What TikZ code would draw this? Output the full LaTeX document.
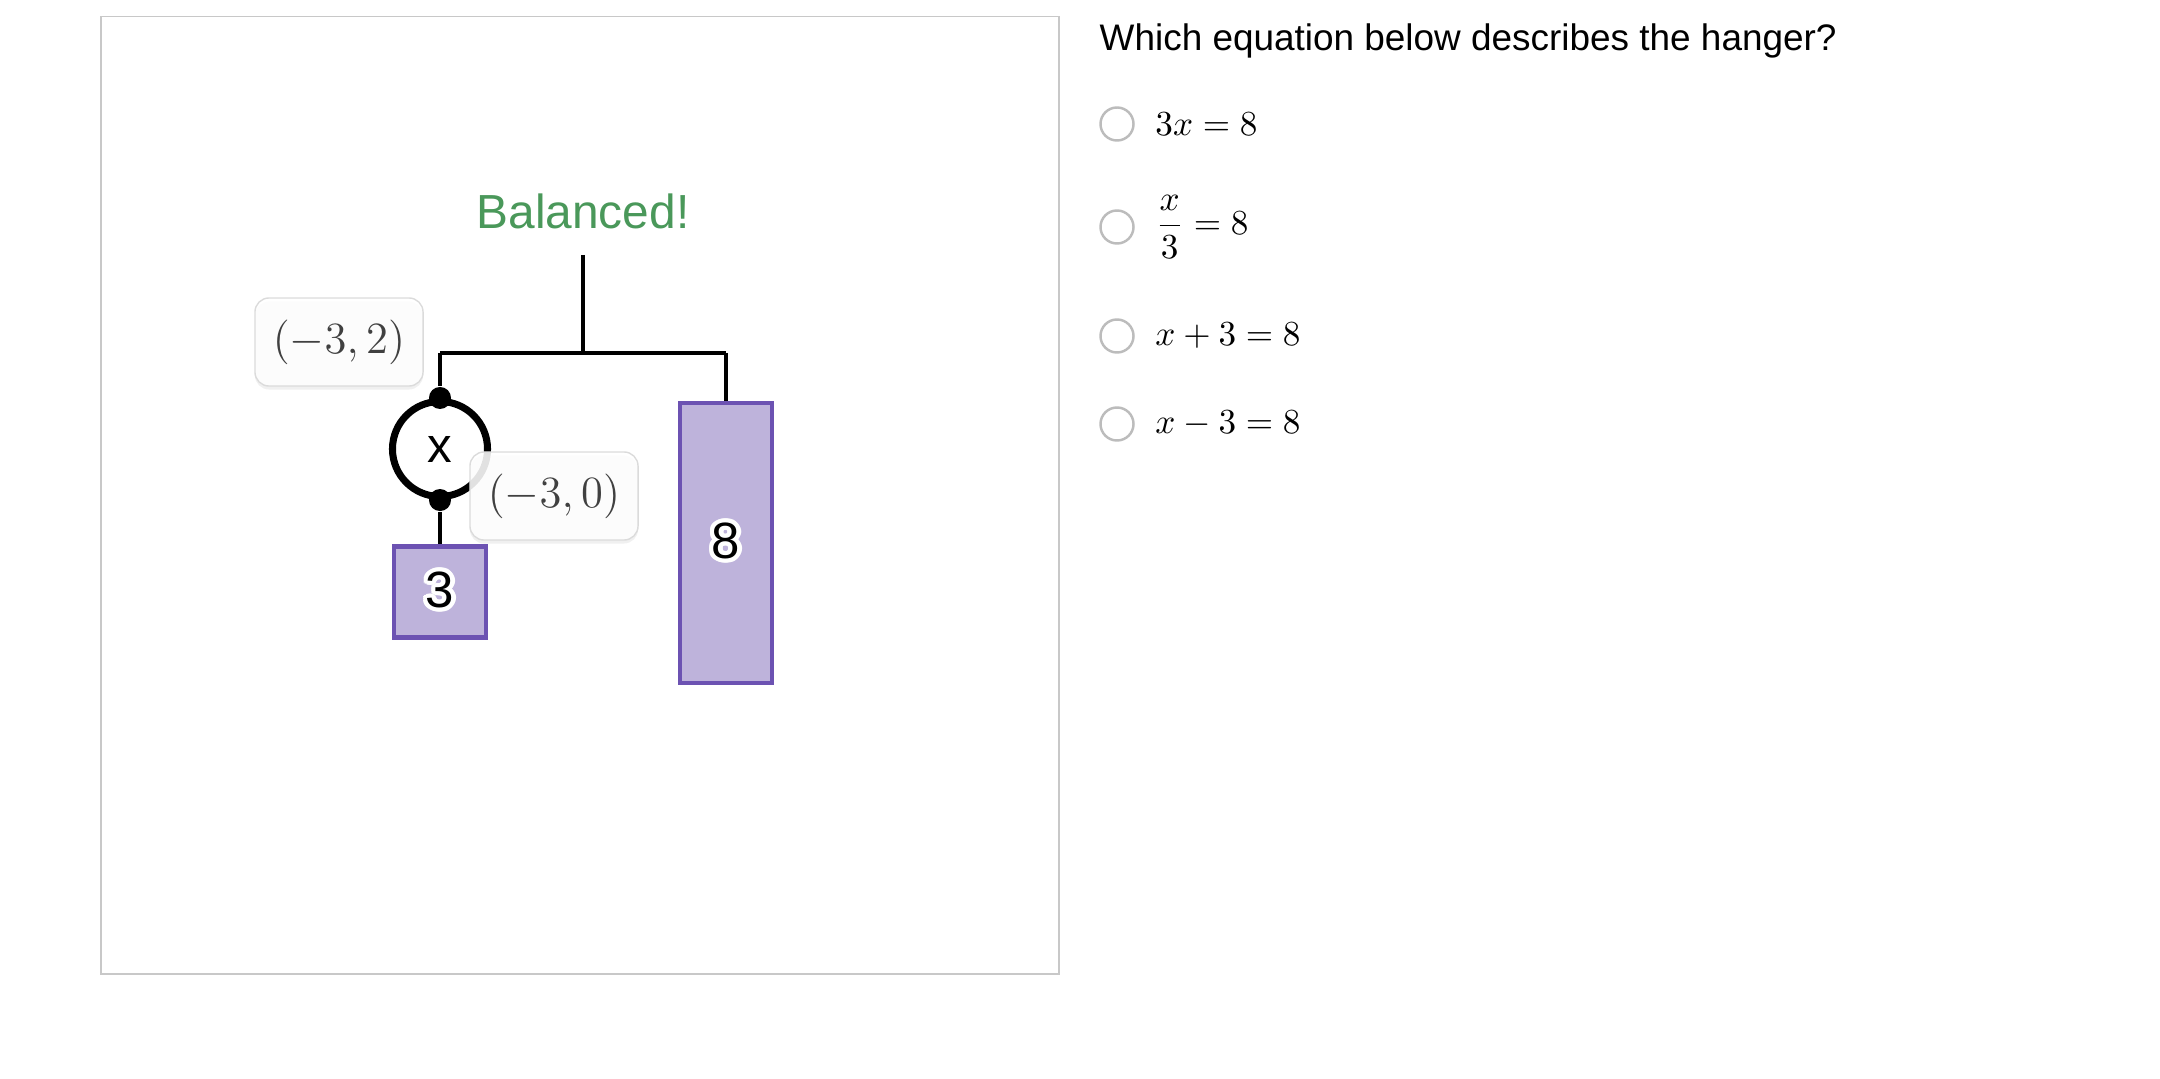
\RequirePackage{fix-cm}
\documentclass[tikz,border=0pt]{standalone}
\usepackage{amsmath}
\usepackage[no-math]{fontspec}
\setmainfont{Liberation Sans}
\usepackage[copies]{contour}
\usepackage{tikz}
\usetikzlibrary{positioning,shadows}
\definecolor{hgframe}{RGB}{200,200,200}
\definecolor{hggreen}{RGB}{74,152,90}
\definecolor{hgpurple}{RGB}{108,82,178}
\definecolor{hglilac}{RGB}{190,179,219}
\definecolor{hglabel}{RGB}{64,64,64}
\definecolor{hgradio}{RGB}{188,188,188}
\contourlength{1.2pt}
\tikzstyle{rope} = [line width=1.3pt, black]
\tikzstyle{weight} = [rectangle, draw=hgpurple, fill=hglilac, line width=1.3pt, minimum width=0.92cm, inner sep=0pt, font=\fontsize{14.5}{16}\selectfont]
\tikzstyle{unknown} = [circle, draw=black, line width=2pt, minimum size=0.95cm, inner sep=0pt, font=\fontsize{14}{16}\selectfont]
\tikzstyle{knot} = [circle, fill=black, minimum size=0.22cm, inner sep=0pt]
\tikzstyle{pointlabel} = [rectangle, rounded corners=4pt, draw=black!14, fill=white, fill opacity=0.88, text opacity=1, minimum width=1.68cm, minimum height=0.88cm, text=hglabel, font=\fontsize{12.7}{15}\selectfont, drop shadow={opacity=0.12, shadow xshift=0pt, shadow yshift=-1pt}]
\tikzstyle{radio} = [circle, draw=hgradio, line width=0.7pt, minimum size=0.33cm, inner sep=0pt]
\tikzstyle{choice} = [inner sep=0pt, font=\fontsize{10}{12}\selectfont]

\begin{document}
\begin{tikzpicture}[x=0.01cm, y=-0.01cm]
\useasboundingbox (0,0) rectangle (2160,1079);

% Graph frame
\draw[hgframe, line width=0.45pt] (101,16.5) rectangle (1059,974);

% Status
\node (status) [font=\fontsize{13.6}{16}\selectfont, text=hggreen] at (583,211) {Balanced!};

% Hanger
\coordinate (hook) at (583,255);
\coordinate (pivot) at (583,353);
\coordinate (armL) at (440,353);
\coordinate (armR) at (726,353);
\node (xball) [unknown] at (440,449) {x};
\node (knotT) [knot] at (xball.north) {};
\node (knotB) [knot] at (xball.south) {};
\node (w3) [weight, minimum height=0.91cm] at (440,592) {\contour{white}{3}};
\node (w8) [weight, minimum height=2.80cm] at (726,543) {\contour{white}{8}};

\draw[rope] (hook) -- (pivot);
\draw[rope] (armL) -- (armR);
\draw[rope] (armL) -- (knotT);
\draw[rope] (knotB) -- (w3.north);
\draw[rope] (armR) -- (w8.north);

% Point labels
\node (lab32) [pointlabel] at (339,342) {$(-3, 2)$};
\node (lab30) [pointlabel] at (554,496) {$(-3, 0)$};

% Question and choices
\node (question) [anchor=base west, inner sep=0pt, font=\fontsize{10.5}{12.6}\selectfont] at (1099,51) {Which equation below describes the hanger?};
\node (r1) [radio] at (1117,124) {};
\node (r2) [radio] at (1117,227) {};
\node (r3) [radio] at (1117,336) {};
\node (r4) [radio] at (1117,424) {};
\node (c1) [choice, right=0.2cm of r1] {$3x = 8$};
\node (c2) [choice, right=0.2cm of r2] {$\dfrac{x}{3} = 8$};
\node (c3) [choice, right=0.2cm of r3] {$x + 3 = 8$};
\node (c4) [choice, right=0.2cm of r4] {$x - 3 = 8$};

\end{tikzpicture}
\end{document}
